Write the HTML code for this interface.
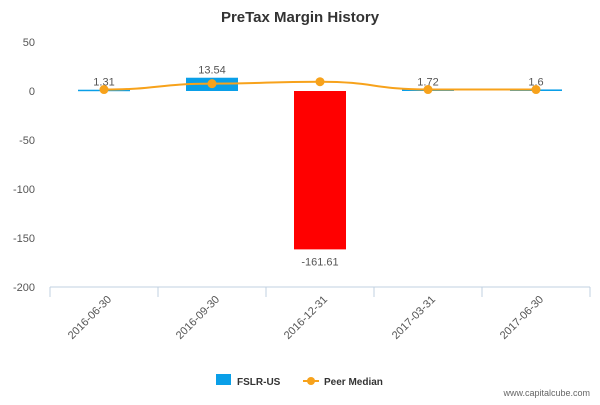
<!DOCTYPE html>
<html><head><meta charset="utf-8"><style>
body{margin:0;background:#fff;font-family:"Liberation Sans","DejaVu Sans",sans-serif}
</style></head><body>
<svg id="c" width="600" height="400" xmlns="http://www.w3.org/2000/svg">
<text x="300" y="22" text-anchor="middle" font-size="15" font-weight="bold" fill="#333">PreTax Margin History</text>
<g id="yax"></g><g id="bars"></g><g id="line"></g><g id="xax"></g>
<g>
<rect x="216" y="374" width="15" height="11" fill="#0a9fe8"/>
<text x="237" y="385" font-size="10" font-weight="bold" fill="#333">FSLR-US</text>
<line x1="303" y1="381" x2="319" y2="381" stroke="#f7a21b" stroke-width="2"/>
<circle cx="311" cy="381" r="4" fill="#f7a21b"/>
<text x="324" y="385" font-size="10" font-weight="bold" fill="#333">Peer Median</text>
</g>
<text x="590" y="396" text-anchor="end" font-size="9" fill="#666">www.capitalcube.com</text>
</svg>
<script>
const categories=["2016-06-30","2016-09-30","2016-12-31","2017-03-31","2017-06-30"];
const fslr=[1.31,13.54,-161.61,1.72,1.6];
const peer=[1.5,7.5,9.5,1.5,1.5];
const yTicks=[50,0,-50,-100,-150,-200];
const NS="http://www.w3.org/2000/svg";
const x0=50,x1=590,band=(x1-x0)/categories.length;
const y=v=>91-v*0.98;
const cx=i=>x0+band*(i+0.5);
function mk(p,t,a){const e=document.createElementNS(NS,t);for(const k in a)e.setAttribute(k,a[k]);p.appendChild(e);return e;}
const yax=document.getElementById('yax');
yTicks.forEach(v=>{const t=mk(yax,'text',{x:35,y:y(v)+4,'text-anchor':'end','font-size':11,fill:'#555'});t.textContent=v;

});
const bars=document.getElementById('bars');
fslr.forEach((v,i)=>{const top=Math.min(y(v),y(0)),h=Math.max(Math.abs(y(v)-y(0)),1.5);
const r=mk(bars,'rect',{x:cx(i)-26,y:top,width:52,height:h,fill:v<0?'#ff0000':'#0a9fe8'});


const t=mk(bars,'text',{x:cx(i),y:v<0?y(v)+16:Math.min(y(v),y(0))-4,'text-anchor':'middle','font-size':11,fill:'#555'});t.textContent=v;

});
const line=document.getElementById('line');
const pts=peer.map((v,i)=>[cx(i),y(v)]);
let d='M'+pts[0];for(let i=1;i<pts.length;i++){const p=pts[i-1],q=pts[i],m=(q[0]-p[0])/2;d+=` C${p[0]+m},${p[1]} ${q[0]-m},${q[1]} ${q[0]},${q[1]}`;}
const pl=mk(line,'path',{d:d,fill:'none',stroke:'#f7a21b','stroke-width':2});


pts.forEach(p=>{const c=mk(line,'circle',{cx:p[0],cy:p[1],r:4.5,fill:'#f7a21b'});

});
const xax=document.getElementById('xax');
const al=mk(xax,'line',{x1:x0,y1:287,x2:x1,y2:287,stroke:'#c0d0e0'});


for(let i=0;i<=categories.length;i++){mk(xax,'line',{x1:x0+band*i,y1:287,x2:x0+band*i,y2:297,stroke:'#c0d0e0'});}
categories.forEach((c,i)=>{const t=mk(xax,'text',{x:cx(i)+8,y:300,'text-anchor':'end','font-size':11,fill:'#555',transform:`rotate(-45 ${cx(i)+8} 300)`});t.textContent=c;

});
</script>
</body></html>
